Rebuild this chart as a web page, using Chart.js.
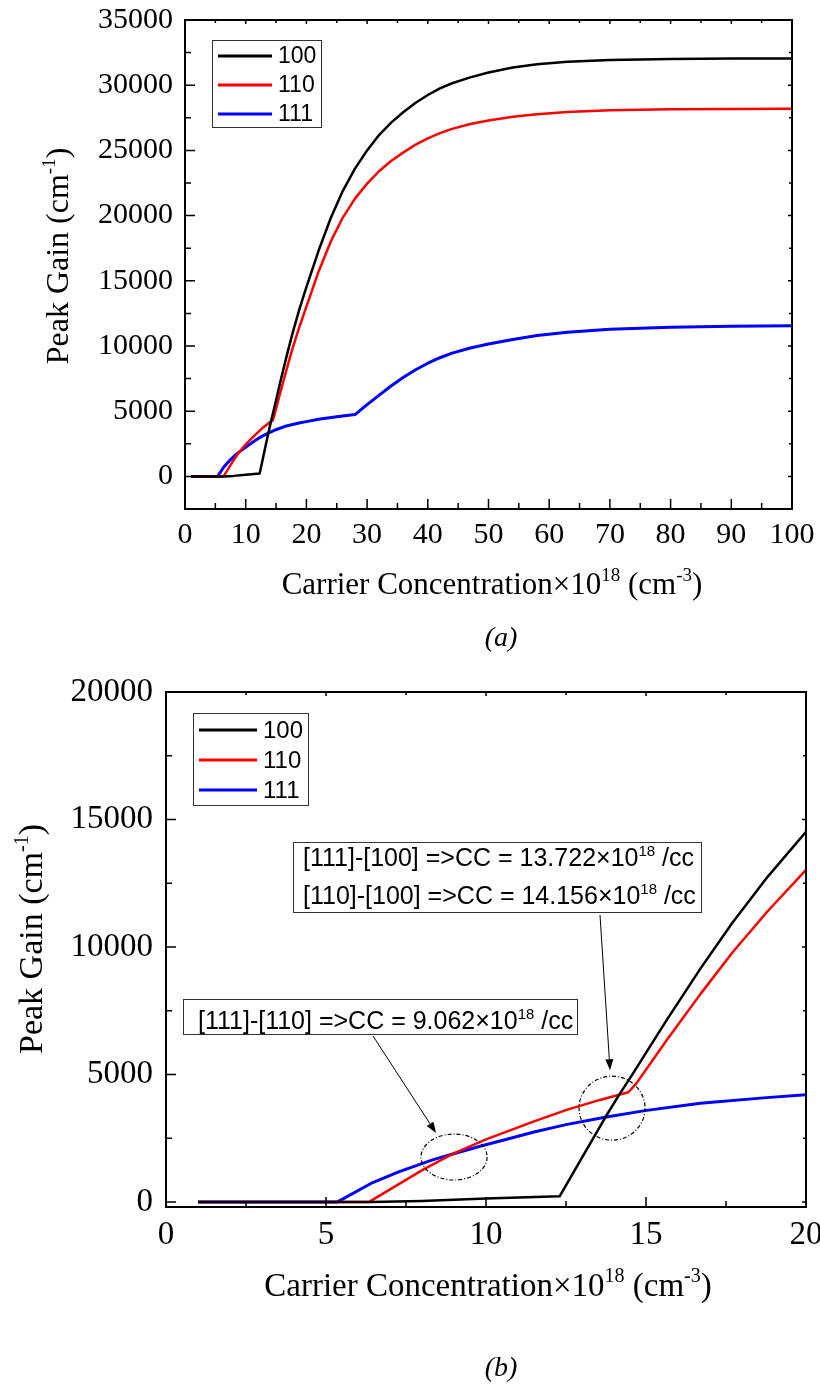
<!DOCTYPE html>
<html>
<head>
<meta charset="utf-8">
<script src="https://cdn.jsdelivr.net/npm/chart.js@4.4.1/dist/chart.umd.min.js"></script>
<style>
  html, body { margin: 0; padding: 0; background: #fff; }
  .panel { position: absolute; left: 0; width: 820px; }
  #panelA { top: 0; height: 660px; }
  #panelB { top: 660px; height: 725px; }
</style>
</head>
<body>
<div class="panel" id="panelA"><canvas id="chartA" width="820" height="660"></canvas></div>
<div class="panel" id="panelB"><canvas id="chartB" width="820" height="725"></canvas></div>
<script>
// valores (concentracion x1e18 cm^-3, ganancia cm^-1)
const labels = ['100', '110', '111'];
const colors = ['#000000', '#ff0000', '#0000ff'];

const cc100 = [1, 6.4, 8, 10, 12.3, 13.0, 13.72, 14.16, 14.6, 15.65, 16.7, 17.7, 18.8, 20, 22, 24, 26, 28, 30, 32, 34, 36, 38, 40, 42, 44, 47, 50, 54, 58, 63, 70, 80, 90, 100];
const gain100 = [0, 0, 40, 130, 220, 1740, 3300, 4200, 5050, 7140, 9150, 10950, 12750, 14520, 17300, 19800, 21900, 23600, 25000, 26200, 27150, 27950, 28650, 29250, 29750, 30150, 30600, 30980, 31350, 31600, 31800, 31930, 32000, 32040, 32050];

const cc110 = [1, 6.35, 8.02, 8.96, 10, 11.48, 12.52, 13.56, 14.16, 14.45, 14.7, 15.65, 16.7, 17.7, 18.8, 20, 22, 24, 26, 28, 30, 32, 34, 36, 38, 40, 42, 44, 47, 50, 54, 58, 63, 70, 80, 90, 100];
const gain110 = [0, 0, 1255, 1880, 2450, 3150, 3610, 4000, 4200, 4300, 4650, 6350, 8150, 9780, 11400, 13020, 15700, 18000, 19850, 21300, 22450, 23420, 24200, 24850, 25450, 25920, 26320, 26650, 27020, 27300, 27580, 27780, 27940, 28070, 28150, 28180, 28190];

const cc111 = [1, 5.36, 6.46, 7.29, 8.33, 8.96, 9.9, 10.5, 11.5, 12.5, 13.72, 14.97, 16.7, 18.77, 20, 22, 25, 28, 30, 32, 34, 36, 38, 40, 42, 44, 47, 50, 54, 58, 63, 70, 80, 90, 100];
const gain111 = [0, 0, 760, 1190, 1650, 1880, 2210, 2410, 2740, 3030, 3320, 3580, 3870, 4090, 4200, 4380, 4580, 4740, 5500, 6230, 6950, 7600, 8180, 8680, 9100, 9450, 9850, 10150, 10500, 10800, 11050, 11280, 11430, 11510, 11550];

const xTicksA = [0, 10, 20, 30, 40, 50, 60, 70, 80, 90, 100];
const yTicksA = [0, 5000, 10000, 15000, 20000, 25000, 30000, 35000];
const xTicksB = [0, 5, 10, 15, 20];
const yTicksB = [0, 5000, 10000, 15000, 20000];

// puntos de cruce marcados en (b)
const crossAt = [9.062, 13.722, 14.156];

const serif = '"Liberation Serif", "Times New Roman", serif';
const sans = '"Liberation Sans", Arial, sans-serif';

const xTitleParts = [{ t: 'Carrier Concentration×10' }, { t: '18', sup: true }, { t: ' (cm' }, { t: '-3', sup: true }, { t: ')' }];
const yTitleParts = [{ t: 'Peak Gain (cm' }, { t: '-1', sup: true }, { t: ')' }];

function pts(xs, ys) {
    return xs.map((x, i) => ({ x: x, y: ys[i] }));
}

function datasets() {
    const all = [[cc100, gain100], [cc110, gain110], [cc111, gain111]];
    return all.map((s, i) => ({
        label: labels[i],
        data: pts(s[0], s[1]),
        borderColor: colors[i],
        borderWidth: i === 2 ? 3 : 2.5,
        borderJoinStyle: 'round',
        pointRadius: 0,
        showLine: true,
        fill: false,
        tension: 0
    }));
}

// texto con superindices (centrado en x, linea base en y)
function richText(ctx, parts, x, y, size, family, opts) {
    opts = opts || {};
    const fontOf = p => (p.sup ? Math.round(size * 0.6) : size) + 'px ' + family;
    let w = 0;
    for (const p of parts) { ctx.font = fontOf(p); w += ctx.measureText(p.t).width; }
    ctx.save();
    ctx.translate(x, y);
    if (opts.rotate) ctx.rotate(-Math.PI / 2);
    ctx.fillStyle = '#000';
    ctx.textAlign = 'left';
    ctx.textBaseline = 'alphabetic';
    let cx = opts.left ? 0 : -w / 2;
    for (const p of parts) {
        ctx.font = fontOf(p);
        ctx.fillText(p.t, cx, p.sup ? -size * 0.42 : 0);
        cx += ctx.measureText(p.t).width;
    }
    ctx.restore();
}

function arrow(ctx, x0, y0, x1, y1) {
    const ang = Math.atan2(y1 - y0, x1 - x0);
    const len = 11, half = 4;
    ctx.beginPath();
    ctx.moveTo(x0, y0);
    ctx.lineTo(x1 - len * Math.cos(ang), y1 - len * Math.sin(ang));
    ctx.stroke();
    ctx.beginPath();
    ctx.moveTo(x1, y1);
    ctx.lineTo(x1 - len * Math.cos(ang) + half * Math.sin(ang), y1 - len * Math.sin(ang) - half * Math.cos(ang));
    ctx.lineTo(x1 - len * Math.cos(ang) - half * Math.sin(ang), y1 - len * Math.sin(ang) + half * Math.cos(ang));
    ctx.closePath();
    ctx.fill();
}

// marco, ticks hacia adentro, leyenda, titulos y anotaciones
function decor(cfg) {
    return {
        id: 'decor',
        afterDatasetsDraw(chart) {
            const ctx = chart.ctx;
            const a = chart.chartArea;
            const xs = chart.scales.x, ys = chart.scales.y;
            const xv = xs.ticks.map(t => t.value);
            const yv = ys.ticks.map(t => t.value);
            const mids = v => v.slice(1).map((b, i) => (b + v[i]) / 2);

            ctx.save();
            ctx.strokeStyle = '#000';
            ctx.lineWidth = 1.5;
            ctx.beginPath();
            const xt = (vals, len, far) => vals.forEach(v => {
                const p = xs.getPixelForValue(v);
                ctx.moveTo(p, a.bottom); ctx.lineTo(p, a.bottom - len);
                ctx.moveTo(p, a.top); ctx.lineTo(p, a.top + far);
            });
            const yt = (vals, len, far) => vals.forEach(v => {
                const p = ys.getPixelForValue(v);
                ctx.moveTo(a.left, p); ctx.lineTo(a.left + len, p);
                ctx.moveTo(a.right, p); ctx.lineTo(a.right - far, p);
            });
            xt(xv, 10, 4); xt(mids(xv), 6, 3);
            yt(yv, 10, 4); yt(mids(yv), 6, 3);
            ctx.stroke();
            ctx.lineWidth = 2;
            ctx.strokeRect(a.left, a.top, a.right - a.left, a.bottom - a.top);

            // leyenda
            const L = cfg.legend;
            ctx.lineWidth = 1;
            ctx.strokeStyle = '#333';
            ctx.fillStyle = '#fff';
            ctx.fillRect(L.x, L.y, L.w, L.h);
            ctx.strokeRect(L.x + 0.5, L.y + 0.5, L.w, L.h);
            chart.data.datasets.forEach((d, i) => {
                ctx.strokeStyle = d.borderColor;
                ctx.lineWidth = 3;
                ctx.beginPath();
                ctx.moveTo(L.lx0, L.rows[i]);
                ctx.lineTo(L.lx1, L.rows[i]);
                ctx.stroke();
                ctx.fillStyle = '#000';
                ctx.font = L.size + 'px ' + sans;
                ctx.textAlign = 'left';
                ctx.textBaseline = 'middle';
                ctx.fillText(d.label, L.tx, L.rows[i] + 1);
            });

            // anotaciones (solo b)
            if (cfg.notes) {
                ctx.strokeStyle = '#000';
                ctx.fillStyle = '#000';
                cfg.notes.rings.forEach(r => {
                    const cx = xs.getPixelForValue(r.x), cy = ys.getPixelForValue(r.y);
                    ctx.lineWidth = 1.2;
                    ctx.setLineDash([4, 2, 1, 2]);
                    ctx.beginPath();
                    ctx.ellipse(cx, cy, r.rx, r.ry, 0, 0, Math.PI * 2);
                    ctx.stroke();
                    ctx.setLineDash([]);
                    ctx.lineWidth = 1;
                    arrow(ctx, r.from[0], r.from[1], cx + r.tip[0], cy + r.tip[1]);
                });
                cfg.notes.boxes.forEach(b => {
                    ctx.lineWidth = 1;
                    ctx.strokeStyle = '#333';
                    ctx.fillStyle = '#fff';
                    ctx.fillRect(b.x, b.y, b.w, b.h);
                    ctx.strokeRect(b.x + 0.5, b.y + 0.5, b.w, b.h);
                    b.lines.forEach(l => richText(ctx, l.parts, b.tx, l.y, b.size, sans, { left: true }));
                });
            }
            ctx.restore();
        },
        afterDraw(chart) {
            const ctx = chart.ctx;
            richText(ctx, xTitleParts, cfg.xTitle.x, cfg.xTitle.y, cfg.xTitle.size, serif);
            richText(ctx, yTitleParts, cfg.yTitle.x, cfg.yTitle.y, cfg.yTitle.size, serif, { rotate: true });
            ctx.save();
            ctx.font = 'italic ' + cfg.caption.size + 'px ' + serif;
            ctx.fillStyle = '#000';
            ctx.textAlign = 'center';
            ctx.textBaseline = 'alphabetic';
            ctx.fillText(cfg.caption.text, cfg.caption.x, cfg.caption.y);
            ctx.restore();
        }
    };
}

function noPad(s) {
    s.paddingLeft = 0; s.paddingRight = 0; s.paddingTop = 0; s.paddingBottom = 0;
}

function makeChart(id, opt) {
    const ctx = document.getElementById(id).getContext('2d');
    return new Chart(ctx, {
        type: 'scatter',
        data: { datasets: datasets() },
        options: {
            responsive: false,
            animation: false,
            devicePixelRatio: 1,
            layout: { padding: { left: 0, top: opt.top, right: opt.right, bottom: 0 } },
            plugins: { legend: { display: false }, tooltip: { enabled: false } },
            scales: {
                x: {
                    type: 'linear', min: opt.xMin, max: opt.xMax,
                    afterBuildTicks: s => { s.ticks = opt.xTicks.map(v => ({ value: v })); },
                    afterFit: s => { s.height = opt.xHeight; noPad(s); },
                    grid: { display: false, drawTicks: false },
                    border: { display: false },
                    ticks: { color: '#000', font: { family: serif, size: opt.tickSize }, padding: opt.xPad, maxRotation: 0, autoSkip: false, callback: v => String(v) }
                },
                y: {
                    type: 'linear', min: opt.yMin, max: opt.yMax,
                    afterBuildTicks: s => { s.ticks = opt.yTicks.map(v => ({ value: v })); },
                    afterFit: s => { s.width = opt.yWidth; noPad(s); },
                    grid: { display: false, drawTicks: false },
                    border: { display: false },
                    ticks: { color: '#000', font: { family: serif, size: opt.tickSize }, padding: opt.yPad, autoSkip: false, callback: v => String(v) }
                }
            }
        },
        plugins: [decor(opt.decor)]
    });
}

makeChart('chartA', {
    xMin: 0, xMax: 100, yMin: -2500, yMax: 35000,
    xTicks: xTicksA, yTicks: yTicksA,
    top: 20, right: 28, xHeight: 151, yWidth: 185,
    tickSize: 30, xPad: 8, yPad: 12,
    decor: {
        legend: { x: 212, y: 40, w: 109, h: 87, lx0: 218, lx1: 272, tx: 278, rows: [56, 85, 114], size: 23 },
        xTitle: { x: 492, y: 594, size: 31 },
        yTitle: { x: 68, y: 256, size: 32 },
        caption: { text: '(a)', x: 501, y: 646, size: 28 }
    }
});

makeChart('chartB', {
    xMin: 0, xMax: 20, yMin: -200, yMax: 20000,
    xTicks: xTicksB, yTicks: yTicksB,
    top: 32, right: 14, xHeight: 178, yWidth: 166,
    tickSize: 33, xPad: 9, yPad: 13,
    decor: {
        legend: { x: 193, y: 53, w: 115, h: 92, lx0: 199, lx1: 257, tx: 263, rows: [70, 100, 130], size: 24 },
        xTitle: { x: 488, y: 636, size: 33 },
        yTitle: { x: 42, y: 279, size: 34 },
        caption: { text: '(b)', x: 501, y: 716, size: 28 },
        notes: {
            rings: [
                { x: crossAt[0] - 0.06, y: 1760, rx: 33, ry: 23, from: [373, 376], tip: [-18, -24] },
                { x: (crossAt[1] + crossAt[2]) / 2, y: 3675, rx: 33, ry: 32, from: [600, 255], tip: [-2, -38] }
            ],
            boxes: [
                { x: 293, y: 182, w: 408, h: 70, tx: 303, size: 25, lines: [
                    { y: 206, parts: [{ t: '[111]-[100] =>CC = ' + crossAt[1].toFixed(3) + '×10' }, { t: '18', sup: true }, { t: ' /cc' }] },
                    { y: 244, parts: [{ t: '[110]-[100] =>CC = ' + crossAt[2].toFixed(3) + '×10' }, { t: '18', sup: true }, { t: ' /cc' }] }
                ] },
                { x: 183, y: 339, w: 394, h: 35, tx: 198, size: 25, lines: [
                    { y: 369, parts: [{ t: '[111]-[110] =>CC = ' + crossAt[0].toFixed(3) + '×10' }, { t: '18', sup: true }, { t: ' /cc' }] }
                ] }
            ]
        }
    }
});
</script>
</body>
</html>
